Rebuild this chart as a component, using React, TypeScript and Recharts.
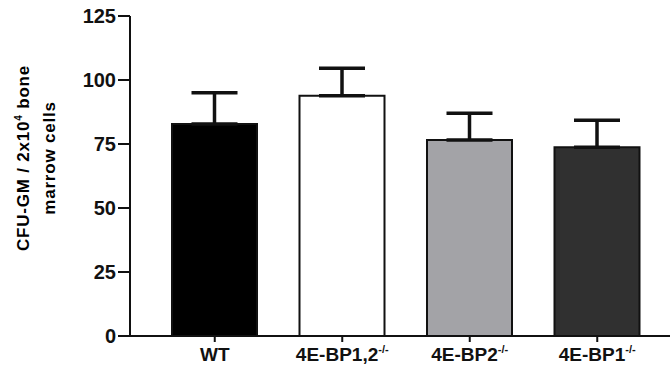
import { BarChart, Bar, XAxis, YAxis, Cell, ErrorBar } from "recharts";

const groups = ["WT", "4E-BP1,2", "4E-BP2", "4E-BP1"];
const means = [82.8, 93.8, 76.6, 73.7];
const sems = [12.2, 10.8, 10.4, 10.6];
const fills = ["#000000", "#ffffff", "#a3a3a7", "#303030"];
const yTicks = [0, 25, 50, 75, 100, 125];

const data = groups.map((g, i) => ({ name: g, value: means[i], err: [0, sems[i]] }));

const FONT = "'Liberation Sans', Arial, sans-serif";

function XTick(props: any) {
  const { x, y, payload } = props;
  const isWT = payload.value === "WT";
  return (
    <text x={x} y={y + 17} textAnchor="middle" fontFamily={FONT} fontWeight="bold" fontSize={19} fill="#111">
      <tspan>{payload.value}</tspan>
      {!isWT && (
        <tspan fontSize={11} dy={-8}>-/-</tspan>
      )}
    </text>
  );
}

function YLabel() {
  const cx = 34;
  const cy = 158;
  return (
    <g transform={`rotate(-90 ${cx} ${cy})`}>
      <text x={cx} y={cy - 5} textAnchor="middle" fontFamily={FONT} fontWeight="bold" fontSize={17} letterSpacing={0.8} fill="#000">
        CFU-GM / 2x10<tspan fontSize={10} dy={-7}>4</tspan><tspan dy={7}> bone</tspan>
      </text>
      <text x={cx} y={cy + 21} textAnchor="middle" fontFamily={FONT} fontWeight="bold" fontSize={17} letterSpacing={0.8} fill="#000">
        marrow  cells
      </text>
    </g>
  );
}

export default function App() {
  return (
    <div style={{ position: "absolute", left: 0, top: 0, background: "#fff" }}>
      <BarChart width={672} height={367} data={data} margin={{ top: 16, right: 2, bottom: 1, left: 60 }}>
        <XAxis
          dataKey="name"
          height={30}
          tick={<XTick />}
          tickLine={{ stroke: "#111", strokeWidth: 2 }}
          tickSize={6}
          axisLine={{ stroke: "#111", strokeWidth: 2 }}
          padding={{ left: 21, right: 9 }}
          interval={0}
        />
        <YAxis
          domain={[0, 125]}
          ticks={yTicks}
          width={70}
          tickSize={12}
          tickLine={{ stroke: "#111", strokeWidth: 2 }}
          axisLine={{ stroke: "#111", strokeWidth: 2 }}
          tick={{ fontFamily: FONT, fontWeight: "bold", fontSize: 20, fill: "#111" }}
          label={<YLabel />}
        />
        <Bar dataKey="value" barSize={85} stroke="#111" strokeWidth={2} isAnimationActive={false}>
          {data.map((d, i) => (
            <Cell key={d.name} fill={fills[i]} />
          ))}
          <ErrorBar dataKey="err" width={23} stroke="#111" strokeWidth={3.5} direction="y" />
        </Bar>
      </BarChart>
    </div>
  );
}
